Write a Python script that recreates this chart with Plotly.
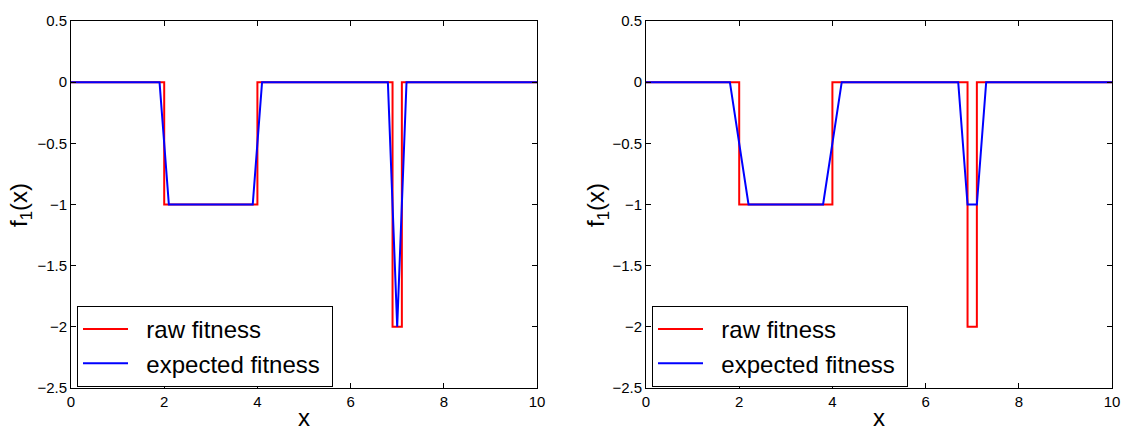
import plotly.graph_objects as go

# ---- data ----
raw_x = [0, 2, 2, 4, 4, 6.9, 6.9, 7.1, 7.1, 10]
raw_y = [0, 0, -1, -1, 0, 0, -2, -2, 0, 0]

exp_left_x = [0, 1.9, 2.1, 3.9, 4.1, 6.8, 7.0, 7.2, 10]
exp_left_y = [0, 0, -1, -1, 0, 0, -2, 0, 0]

exp_right_x = [0, 1.8, 2.2, 3.8, 4.2, 6.7, 6.9, 7.1, 7.3, 10]
exp_right_y = [0, 0, -1, -1, 0, 0, -1, -1, 0, 0]

x_ticks = [0, 2, 4, 6, 8, 10]
y_ticks = [0.5, 0, -0.5, -1, -1.5, -2, -2.5]
y_tick_text = ["0.5", "0", "\u22120.5", "\u22121", "\u22121.5", "\u22122", "\u22122.5"]
series_names = ["raw fitness", "expected fitness"]

W, H = 1123, 432
FONT = "Liberation Sans, Arial, Helvetica, sans-serif"
RED = "#ff0000"
BLUE = "#0000ff"
NB = "\u00a0"

def px(x):
    return x / W

def py(y):
    return 1 - y / H

legend_labels = [NB * 2 + series_names[0], NB * 2 + series_names[1] + NB]

fig = go.Figure()

fig.add_trace(go.Scatter(x=raw_x, y=raw_y, mode="lines", name=legend_labels[0],
                         line=dict(color=RED, width=2), xaxis="x", yaxis="y", legend="legend"))
fig.add_trace(go.Scatter(x=exp_left_x, y=exp_left_y, mode="lines", name=legend_labels[1],
                         line=dict(color=BLUE, width=2), xaxis="x", yaxis="y", legend="legend"))
fig.add_trace(go.Scatter(x=raw_x, y=raw_y, mode="lines", name=legend_labels[0],
                         line=dict(color=RED, width=2), xaxis="x2", yaxis="y2", legend="legend2"))
fig.add_trace(go.Scatter(x=exp_right_x, y=exp_right_y, mode="lines", name=legend_labels[1],
                         line=dict(color=BLUE, width=2), xaxis="x2", yaxis="y2", legend="legend2"))

ydom = [py(388), py(21)]
left_dom = [px(71), px(537)]
right_dom = [px(646), px(1112)]

axis_common = dict(showline=True, linecolor="black", linewidth=1, mirror="ticks",
                   ticks="inside", ticklen=5, tickwidth=1, tickcolor="black",
                   showgrid=False, zeroline=False, automargin=False,
                   tickfont=dict(family=FONT, size=15, color="black"))

def xaxis(dom, anchor):
    return dict(axis_common, domain=dom, anchor=anchor, range=[0, 10],
                tickvals=x_ticks, ticktext=[str(t) for t in x_ticks])

def yaxis(anchor):
    return dict(axis_common, domain=ydom, anchor=anchor, range=[-2.5, 0.5],
                tickvals=y_ticks, ticktext=y_tick_text)

legend_common = dict(bgcolor="white", bordercolor="black", borderwidth=1,
                     font=dict(family=FONT, size=24, color="black"),
                     xanchor="left", yanchor="bottom", tracegroupgap=0,
                     itemwidth=45)

annotations = []
for cx, xt_center in [(21, (71 + 537) / 2), (598, (646 + 1112) / 2)]:
    annotations.append(dict(text="f<sub>1</sub>(x)", x=px(cx), y=py(205),
                            xref="paper", yref="paper", showarrow=False, textangle=-90,
                            font=dict(family=FONT, size=24, color="black"),
                            xanchor="center", yanchor="middle"))
    annotations.append(dict(text="x", x=px(xt_center), y=0, yshift=-1,
                            xref="paper", yref="paper", showarrow=False,
                            font=dict(family=FONT, size=24, color="black"),
                            xanchor="center", yanchor="bottom"))

fig.update_layout(
    template="none",
    width=W, height=H,
    margin=dict(l=0, r=0, t=0, b=0, autoexpand=False),
    paper_bgcolor="white", plot_bgcolor="white",
    xaxis=xaxis(left_dom, "y"),
    yaxis=yaxis("x"),
    xaxis2=xaxis(right_dom, "y2"),
    yaxis2=yaxis("x2"),
    legend=dict(legend_common, x=px(77), y=py(387)),
    legend2=dict(legend_common, x=px(652), y=py(387)),
    annotations=annotations,
    showlegend=True,
    hovermode=False,
)

fig.write_html("out.html",
               config={"displayModeBar": False},
               post_script="document.body.style.margin='0';document.body.style.overflow='hidden';")
